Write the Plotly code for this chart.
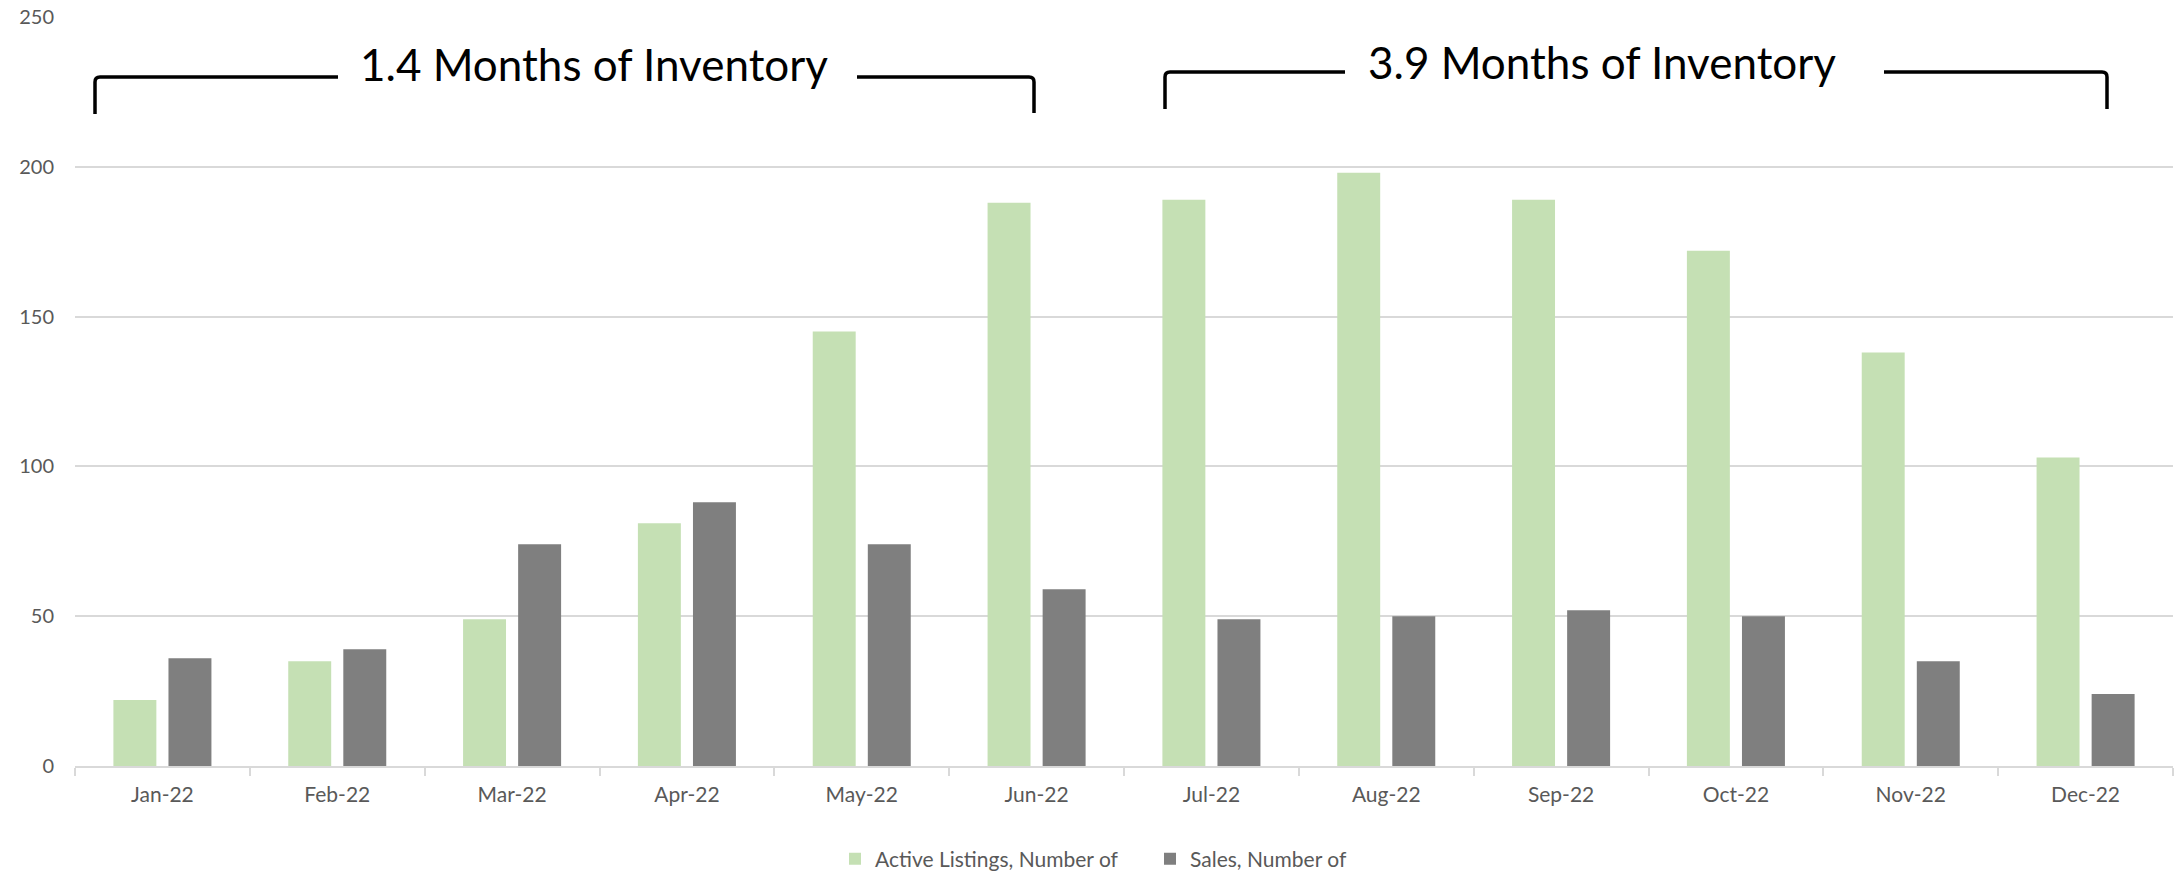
import plotly.graph_objects as go

months = ["Jan-22", "Feb-22", "Mar-22", "Apr-22", "May-22", "Jun-22",
          "Jul-22", "Aug-22", "Sep-22", "Oct-22", "Nov-22", "Dec-22"]
active_listings = [22, 35, 49, 81, 145, 188, 189, 198, 189, 172, 138, 103]
sales = [36, 39, 74, 88, 74, 59, 49, 50, 52, 50, 35, 24]
y_ticks = [0, 50, 100, 150, 200, 250]
label_1 = "1.4 Months of Inventory"
label_2 = "3.9 Months of Inventory"

W, H = 2183, 873
ML, MR, MT, MB = 75, 10, 17, 107
PW, PH = W - ML - MR, H - MT - MB
FONT = "Lato, Open Sans, sans-serif"
GRID = "#D9D9D9"
TXT = "#595959"


def px(x):
    return (x - ML) / PW


def py(y):
    return (H - MB - y) / PH


fig = go.Figure()
fig.add_trace(go.Bar(x=months, y=active_listings, name="Active Listings, Number of",
                     marker=dict(color="#C5E0B4", line=dict(width=0))))
fig.add_trace(go.Bar(x=months, y=sales, name="Sales, Number of",
                     marker=dict(color="#7F7F7F", line=dict(width=0))))


def bracket_path(x0, x1, ytop, ybot, r=5):
    return (f"M {px(x0)},{py(ybot)} L {px(x0)},{py(ytop + r)} "
            f"Q {px(x0)},{py(ytop)} {px(x0 + r)},{py(ytop)} L {px(x1)},{py(ytop)}")


def bracket_path_r(x0, x1, ytop, ybot, r=5):
    return (f"M {px(x0)},{py(ytop)} L {px(x1 - r)},{py(ytop)} "
            f"Q {px(x1)},{py(ytop)} {px(x1)},{py(ytop + r)} L {px(x1)},{py(ybot)}")


shapes = []
line = dict(color="black", width=3.5)
shapes.append(dict(type="path", xref="paper", yref="paper", path=bracket_path(95, 338, 77, 114), line=line))
shapes.append(dict(type="path", xref="paper", yref="paper", path=bracket_path_r(857, 1034, 77, 113), line=line))
shapes.append(dict(type="path", xref="paper", yref="paper", path=bracket_path(1165, 1345, 72, 109), line=line))
shapes.append(dict(type="path", xref="paper", yref="paper", path=bracket_path_r(1884, 2107, 72, 109), line=line))

annotations = [
    dict(text=label_1, x=px(594), y=py(64), xref="paper", yref="paper", showarrow=False,
         font=dict(family=FONT, size=44, color="black"), xanchor="center", yanchor="middle"),
    dict(text=label_2, x=px(1602), y=py(62), xref="paper", yref="paper", showarrow=False,
         font=dict(family=FONT, size=44, color="black"), xanchor="center", yanchor="middle"),
]

fig.update_layout(
    width=W, height=H,
    margin=dict(l=ML, r=MR, t=MT, b=MB, autoexpand=False),
    plot_bgcolor="white", paper_bgcolor="white",
    barmode="group", bargap=0.37, bargroupgap=0.22,
    font=dict(family=FONT, size=21, color=TXT),
    shapes=shapes, annotations=annotations,
    legend=dict(orientation="h", x=px(835), xanchor="left", y=py(859), yanchor="middle",
                font=dict(family=FONT, size=21, color=TXT), itemsizing="constant",
                entrywidth=270, traceorder="normal"),
    showlegend=True,
)
fig.update_xaxes(type="category", showgrid=False, showline=True, linecolor=GRID, linewidth=2,
                 ticks="outside", tickson="boundaries", ticklen=8, tickcolor=GRID, tickwidth=2,
                 tickfont=dict(family=FONT, size=21, color=TXT), ticklabelstandoff=9,
                 range=[-0.5, 11.5])
fig.update_yaxes(range=[0, 250], tickvals=y_ticks, showgrid=True, gridcolor=GRID, gridwidth=2,
                 zeroline=False, showline=False, ticks="",
                 tickfont=dict(family=FONT, size=20, color=TXT), ticklabelstandoff=20)

fig.write_html("out.html")
